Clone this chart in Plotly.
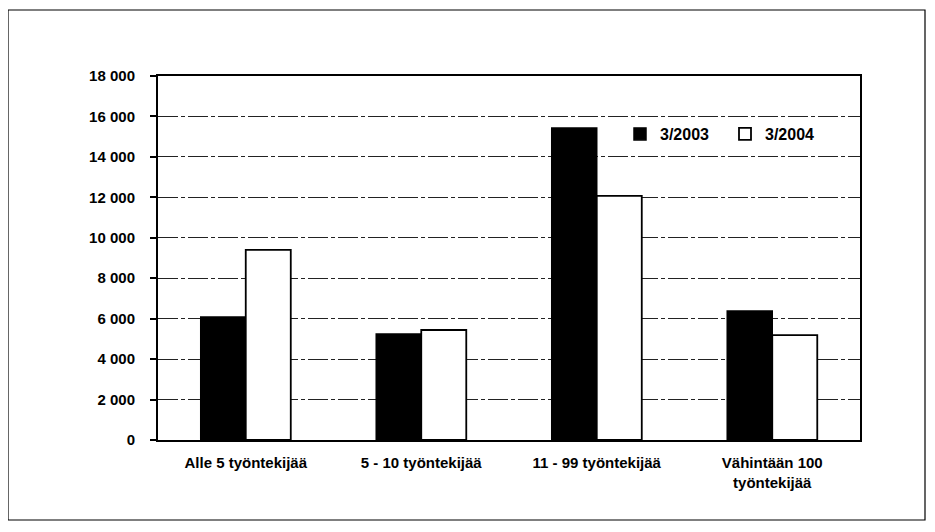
import plotly.graph_objects as go

categories = ["Alle 5 työntekijää", "5 - 10 työntekijää", "11 - 99 työntekijää", "Vähintään 100<br>työntekijää"]
series_names = ["3/2003", "3/2004"]
values_2003 = [6080, 5240, 15430, 6380]
values_2004 = [9400, 5440, 12070, 5190]
y_tickvals = [0, 2000, 4000, 6000, 8000, 10000, 12000, 14000, 16000, 18000]
y_ticktext = ["0", "2 000", "4 000", "6 000", "8 000", "10 000", "12 000", "14 000", "16 000", "18 000"]

FONT = "Liberation Sans, Arial, sans-serif"

fig = go.Figure()
fig.add_trace(go.Bar(x=categories, y=values_2003, name=series_names[0],
                     marker=dict(color="black", line=dict(color="black", width=1.5))))
fig.add_trace(go.Bar(x=categories, y=values_2004, name=series_names[1],
                     marker=dict(color="white", line=dict(color="black", width=1.8))))

# page has an 8px body margin; figure coords = page coords - 8
W, H = 919, 516
ml, mt = 150, 68
mr = W - (860 - 8)
mb = H - (440 - 8)
pw, ph = W - ml - mr, H - mt - mb

def px_x(p):
    return (p - 8 - ml) / pw

def px_y(p):
    return (H - mb - (p - 8)) / ph

tickfont = dict(family=FONT, size=15, color="black", weight="bold")

fig.update_layout(
    width=W, height=H,
    margin=dict(l=ml, r=mr, t=mt, b=mb),
    paper_bgcolor="white", plot_bgcolor="white",
    barmode="group", bargap=0.487, bargroupgap=0,
    font=dict(family=FONT, size=15, color="black"),
    legend=dict(orientation="h", x=px_x(620), y=px_y(134), xanchor="left", yanchor="middle",
                font=dict(family=FONT, size=16, color="black", weight="bold"),
                bgcolor="rgba(0,0,0,0)", itemwidth=30, traceorder="normal",
                entrywidth=60, entrywidthmode="pixels"),
    xaxis=dict(showline=True, linecolor="black", linewidth=2, ticks="", mirror=True,
               tickfont=tickfont, showgrid=False, ticklabelstandoff=8),
    yaxis=dict(range=[0, 18000], tickvals=y_tickvals, ticktext=y_ticktext,
               showline=True, linecolor="black", linewidth=2, mirror=True,
               ticks="outside", ticklen=6, tickcolor="black", tickwidth=1.5,
               tickfont=tickfont, ticklabelstandoff=12,
               showgrid=True, gridcolor="#222222", gridwidth=1,
               griddash="20px,3px,4px,3px", zeroline=False),
    shapes=[
        dict(type="rect", xref="paper", yref="paper",
             x0=px_x(8), x1=px_x(925), y0=px_y(520), y1=px_y(10),
             line=dict(color="black", width=1.2), fillcolor="rgba(0,0,0,0)",
             layer="below"),
    ],
)

fig.write_html("out.html")
